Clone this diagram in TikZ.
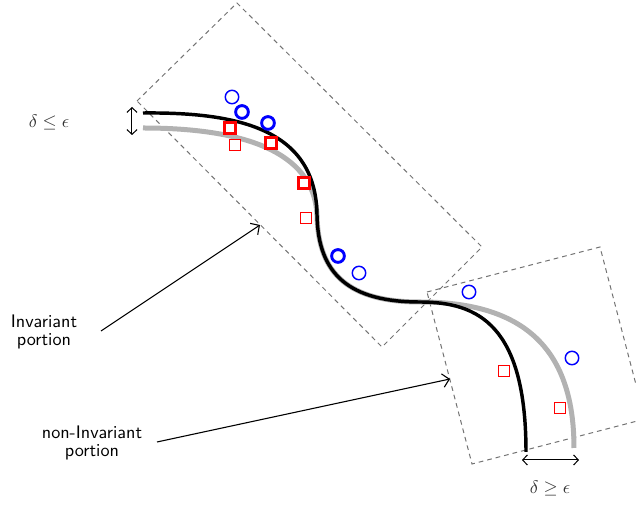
\documentclass[tikz,border=0pt]{standalone}
\usetikzlibrary{arrows.meta}
\begin{document}
\begin{tikzpicture}[x=0.55pt,y=-0.55pt,
  traj/.style={line width=1.9pt, line cap=butt},
  refcurve/.style={line width=2.75pt, draw=black!30},
  regionbox/.style={draw=black!55, line width=0.55pt, dash pattern=on 2.6pt off 2.2pt},
  sqthick/.style={shape=rectangle, draw=red, fill=white, line width=1.6pt, minimum size=5.6pt, inner sep=0pt},
  sqthin/.style={shape=rectangle, draw=red, fill=white, line width=0.8pt, minimum size=6.2pt, inner sep=0pt},
  cthick/.style={shape=circle, draw=blue, fill=white, line width=1.6pt, minimum size=7pt, inner sep=0pt},
  cthin/.style={shape=circle, draw=blue, fill=white, line width=0.8pt, minimum size=7.4pt, inner sep=0pt},
  ptr/.style={-{Straight Barb[length=3.6pt,width=7.5pt]}, line width=0.6pt},
  dim/.style={{Straight Barb[length=2.6pt,width=5.6pt]}-{Straight Barb[length=2.6pt,width=5.6pt]}, line width=0.55pt},
  lbl/.style={font=\sffamily, align=center},
  mlbl/.style={text=black!80}
]
\useasboundingbox (0,0) rectangle (636,505);
\clip (0,0) rectangle (636,505);

% dashed regions
\draw[regionbox] (137,101) -- (237,3) -- (482,247) -- (382,347) -- cycle;
\draw[regionbox] (427,292) -- (600,247) -- (645,419) -- (472,464) -- cycle;

% reference (gray) and actual (black) curves
\draw[refcurve] (143,128) .. controls (240,128) and (314,150) .. (317,215)
  .. controls (318,275) and (350,302) .. (420,302)
  .. controls (520,302) and (574,345) .. (574,448);
\draw[traj] (143,113) .. controls (240,112) and (316,130) .. (317,215)
  .. controls (318,275) and (350,302) .. (420,302)
  .. controls (478,302) and (526,325) .. (526,452);

% squares
\node[sqthick] (s1) at (230,128) {};
\node[sqthick] (s2) at (271,143) {};
\node[sqthick] (s3) at (304,183) {};
\node[sqthin] (s4) at (235,145) {};
\node[sqthin] (s5) at (306,218) {};
\node[sqthin] (s6) at (504,371) {};
\node[sqthin] (s7) at (560,408) {};

% circles
\node[cthin] (c1) at (232,97) {};
\node[cthick] (c2) at (242,112) {};
\node[cthick] (c3) at (268,123) {};
\node[cthick] (c4) at (338,256) {};
\node[cthin] (c5) at (359,273) {};
\node[cthin] (c6) at (469,292) {};
\node[cthin] (c7) at (572,358) {};

% delta annotations
\coordinate (dA) at (132,107);
\coordinate (dB) at (132,135);
\draw[dim] (dA) -- (dB);
\node[mlbl] (d1) at (49,122) {$\delta \leq \epsilon$};
\coordinate (eA) at (522,460);
\coordinate (eB) at (579,460);
\draw[dim] (eA) -- (eB);
\node[mlbl] (d2) at (550,488) {$\delta \geq \epsilon$};

% labels with pointers
\node[lbl] (inv) at (44,332) {Invariant\\[-2.5pt]portion};
\coordinate (invA) at (101,331);
\coordinate (invB) at (260,225);
\draw[ptr] (invA) -- (invB);
\node[lbl] (ninv) at (92,443) {non-Invariant\\[-2.5pt]portion};
\coordinate (ninvA) at (157,442);
\coordinate (ninvB) at (450,379);
\draw[ptr] (ninvA) -- (ninvB);
\end{tikzpicture}
\end{document}
